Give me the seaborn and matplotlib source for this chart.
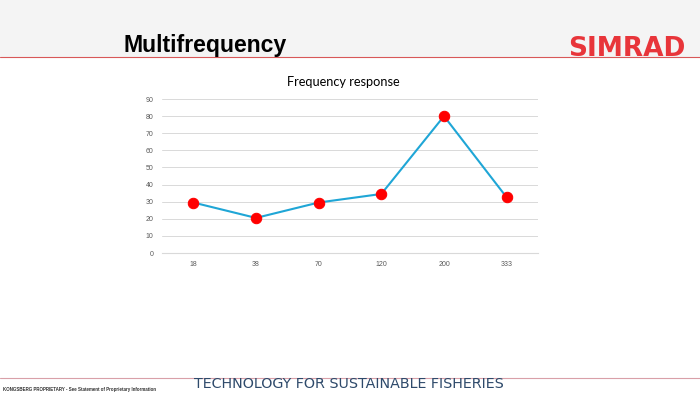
import matplotlib
matplotlib.use("Agg")
import matplotlib.pyplot as plt
import seaborn as sns
import pandas as pd

# Data
frequencies = ["18", "38", "70", "120", "200", "333"]
response = [29.5, 20.5, 29.5, 34.5, 80, 32.5]
y_ticks = [0, 10, 20, 30, 40, 50, 60, 70, 80, 90]

df = pd.DataFrame({"Frequency": frequencies, "Response": response})

sns.set_style("white")
plt.rcParams["font.family"] = ["Liberation Sans", "DejaVu Sans"]

fig = plt.figure(figsize=(7, 3.97), dpi=100)
fig.patch.set_facecolor("white")

# Slide header band
fig.patches.append(plt.Rectangle((0, 1 - 57 / 397), 1, 57 / 397, transform=fig.transFigure,
                                 facecolor="#f4f4f4", edgecolor="none", zorder=0))
fig.add_artist(plt.Line2D([0, 1], [1 - 57 / 397] * 2, transform=fig.transFigure,
                          color="#d85858", lw=0.8))
fig.text(124 / 700, 1 - 52 / 397, "Multifrequency", fontsize=16.6, fontweight="bold",
         color="black", ha="left", va="baseline")
fig.text(686 / 700, 1 - 56 / 397, "SIMRAD", fontsize=19, fontweight="bold",
         color="#e8353a", ha="right", va="baseline", family="DejaVu Sans")

# Slide footer
fig.add_artist(plt.Line2D([0, 1], [1 - 378 / 397] * 2, transform=fig.transFigure,
                          color="#d9a0a8", lw=0.8))
fig.text(3 / 700, 1 - 389 / 397, "KONGSBERG PROPRIETARY - See Statement of Proprietary Information",
         fontsize=3.25, fontweight="bold", color="#333333", ha="left", va="center")
fig.text(349 / 700, 1 - 384 / 397, "TECHNOLOGY FOR SUSTAINABLE FISHERIES",
         fontsize=10.3, color="#2e4a6b", ha="center", va="center", family="DejaVu Sans")

# Chart
ax = fig.add_axes([162 / 700, 1 - 253 / 397, 376 / 700, 154 / 397])
sns.lineplot(data=df, x="Frequency", y="Response", ax=ax, sort=False,
             color="#1fa6d6", lw=1.5, marker="o", markersize=7.5,
             markerfacecolor="#ff0000", markeredgecolor="#ff0000")

ax.set_xlim(-0.5, len(frequencies) - 0.5)
ax.set_ylim(0, 90)
ax.set_yticks(y_ticks)
ax.grid(axis="y", color="#d9d9d9", lw=0.7)
ax.set_axisbelow(True)
for side in ["left", "right", "top"]:
    ax.spines[side].set_visible(False)
ax.spines["bottom"].set_color("#d9d9d9")
ax.tick_params(axis="both", length=0, labelsize=5, labelcolor="#595959", pad=6)
ax.set_xlabel("")
ax.set_ylabel("")
ax.set_title("Frequency response", fontsize=9.2, color="black",
             family=["Lato", "DejaVu Sans"], pad=9, x=0.482)

fig.savefig("out.png", dpi=100)
